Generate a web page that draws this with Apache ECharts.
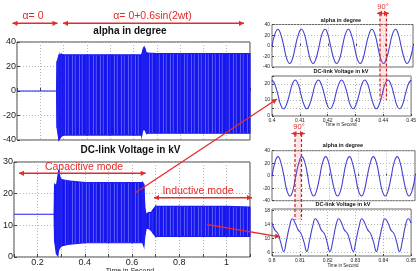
<!DOCTYPE html>
<html>
<head>
<meta charset="utf-8">
<script src="https://cdn.jsdelivr.net/npm/echarts@6/dist/echarts.min.js"></script>
<style>
html, body { margin: 0; padding: 0; background: #fff; }
#chart { width: 419px; height: 271px; }
</style>
</head>
<body>
<div id="chart"></div>
<script>
// main left plots: envelope (upper / lower edge) of the fast oscillation
var tAlpha = [0.1, 0.27, 0.272, 0.28, 0.29, 0.30, 0.40, 0.50, 0.60, 0.635, 0.64, 0.645, 0.65, 0.655, 0.66, 0.70, 0.80, 0.90, 1.00, 1.10];
var alphaUpper = [0, 0, 24, 29, 30, 29.5, 29.5, 29.5, 29.5, 29.5, 33, 35, 34, 31, 31, 30.5, 30.5, 30.5, 30.5, 30.5];
var alphaLower = [0, 0, -30, -40, -37, -36, -36, -36, -36, -36, -32, -31, -32, -34, -34.5, -34.5, -34.5, -34.5, -34.5, -34.5];

var tDc = [0.1, 0.27, 0.272, 0.28, 0.285, 0.29, 0.295, 0.30, 0.33, 0.40, 0.50, 0.60, 0.645, 0.65, 0.655, 0.66, 0.67, 0.68, 0.69, 0.70, 0.80, 0.90, 1.00, 1.10];
var dcUpper = [13.5, 13.5, 23, 22.5, 25, 27.5, 25, 24.5, 24, 23.5, 23.5, 23.5, 23.5, 23, 15, 13.5, 14, 14, 15, 16, 16, 16, 16, 15.8];
var dcLower = [13.5, 13.5, 5, 1, 0.5, 2.5, 3, 3.5, 4, 4.5, 4.5, 4.5, 4.5, 3.5, 7, 9, 9, 8.5, 7.5, 6.5, 6.5, 6.5, 6.5, 6.5];

// zoomed insets (right)
var tIns1 = [0.4000,0.4010,0.4021,0.4031,0.4042,0.4052,0.4063,0.4073,0.4083,0.4094,0.4104,0.4115,0.4125,0.4135,0.4146,0.4156,0.4167,0.4177,0.4188,0.4198,0.4208,0.4219,0.4229,0.4240,0.4250,0.4260,0.4271,0.4281,0.4292,0.4302,0.4313,0.4323,0.4333,0.4344,0.4354,0.4365,0.4375,0.4385,0.4396,0.4406,0.4417,0.4427,0.4438,0.4448,0.4458,0.4469,0.4479,0.4490,0.4500];
var alphaIns1 = [-1,21.5,31,21.5,-1,-24,-33.5,-24, -1,21.5,31,21.5,-1,-24,-33.5,-24, -1,21.5,31,21.5,-1,-24,-33.5,-24, -1,21.5,31,21.5,-1,-24,-33.5,-24, -1,21.5,31,21.5,-1,-24,-33.5,-24, -1,21.5,31,21.5,-1,-24,-33.5,-24, -1];
var dcIns1 = [22.5,19.9,13.5,7.1,4.5,7.1,13.5,19.9, 22.5,19.9,13.5,7.1,4.5,7.1,13.5,19.9, 22.5,19.9,13.5,7.1,4.5,7.1,13.5,19.9, 22.5,19.9,13.5,7.1,4.5,7.1,13.5,19.9, 22.5,19.9,13.5,7.1,4.5,7.1,13.5,19.9, 22.5,19.9,13.5,7.1,4.5,7.1,13.5,19.9, 22.5];

var tIns2 = [0.8000,0.8010,0.8021,0.8031,0.8042,0.8052,0.8063,0.8073,0.8083,0.8094,0.8104,0.8115,0.8125,0.8135,0.8146,0.8156,0.8167,0.8177,0.8188,0.8198,0.8208,0.8219,0.8229,0.8240,0.8250,0.8260,0.8271,0.8281,0.8292,0.8302,0.8313,0.8323,0.8333,0.8344,0.8354,0.8365,0.8375,0.8385,0.8396,0.8406,0.8417,0.8427,0.8438,0.8448,0.8458,0.8469,0.8479,0.8490,0.8500];
var alphaIns2 = [-1,21,30.5,21,-1,-23.5,-32.5,-23.5, -1,21,30.5,21,-1,-23.5,-32.5,-23.5, -1,21,30.5,21,-1,-23.5,-32.5,-23.5, -1,21,30.5,21,-1,-23.5,-32.5,-23.5, -1,21,30.5,21,-1,-23.5,-32.5,-23.5, -1,21,30.5,21,-1,-23.5,-32.5,-23.5, -1];
var dcIns2 = [14.5,12.5,11.5,9,6.3,9.5,13.5,15.7, 14.5,12.5,11.5,9,6.3,9.5,13.5,15.7, 14.5,12.5,11.5,9,6.3,9.5,13.5,15.7, 14.5,12.5,11.5,9,6.3,9.5,13.5,15.7, 14.5,12.5,11.5,9,6.3,9.5,13.5,15.7, 14.5,12.5,11.5,9,6.3,9.5,13.5,15.7, 14.5];

var dcIns2Ticks = [6, 10, 14, 18];

var dom = document.getElementById('chart');
var myChart = echarts.init(dom);

var blue = '#1e1ef0';
var waveBlue = '#4242d2';
var red = '#e32b2b';
var font = 'Liberation Sans, Arial, sans-serif';

// streaky fill for the dense oscillation
var streak = document.createElement('canvas');
streak.width = 7; streak.height = 4;
(function () {
    var c = streak.getContext('2d');
    var cols = ['#1414ee', '#1a1af0', '#5a5af6', '#1414ee', '#2323f0', '#4848f4', '#1616ee'];
    for (var i = 0; i < cols.length; i++) { c.fillStyle = cols[i]; c.fillRect(i, 0, 1, 4); }
})();
var bandFill = { image: streak, repeat: 'repeat' };

function pairs(xs, ys) {
    return xs.map(function (x, i) { return [x, ys[i]]; });
}
function triples(xs, lo, up) {
    return xs.map(function (x, i) { return [x, lo[i], up[i]]; });
}

// fills the strip between lower and upper edge, one segment per data item
function bandItem(params, api) {
    var i = params.dataIndexInside;
    if (i >= params.dataInsideLength - 1) return;
    var pts = [
        api.coord([api.value(0, i), api.value(1, i)]),
        api.coord([api.value(0, i), api.value(2, i)]),
        api.coord([api.value(0, i + 1), api.value(2, i + 1)]),
        api.coord([api.value(0, i + 1), api.value(1, i + 1)])
    ];
    return { type: 'polygon', shape: { points: pts }, style: { fill: bandFill, stroke: blue, lineWidth: 1.2 } };
}

function gridBox(left, top, width, height, bw) {
    return { left: left, top: top, width: width, height: height, show: true, borderColor: '#444', borderWidth: bw, containLabel: false };
}
var dotted = { lineStyle: { color: '#b5b5b5', type: [1, 2], width: 1 } };

function xAx(gi, min, max, step, fs, showLab, fmt) {
    return {
        gridIndex: gi, type: 'value', min: min, max: max, interval: step,
        axisLine: { show: false },
        axisTick: { inside: true, length: fs > 6 ? 3 : 2, lineStyle: { color: '#444' } },
        axisLabel: { show: showLab, fontSize: fs, color: '#222', fontFamily: font, margin: fs > 6 ? 1 : 2, formatter: fmt },
        splitLine: dotted
    };
}
function yAx(gi, min, max, step, fs, fmt) {
    return {
        gridIndex: gi, type: 'value', min: min, max: max, interval: step,
        axisLine: { show: false },
        axisTick: { inside: true, length: fs > 6 ? 3 : 2, lineStyle: { color: '#444' } },
        axisLabel: { fontSize: fs, color: '#222', fontFamily: font, margin: fs > 6 ? 1 : 2, formatter: fmt },
        splitLine: dotted
    };
}

var mainX = function (v) {
    var n = Math.round(v * 10);
    if (n % 2 !== 0) return '';
    return String(n / 10);
};

// ---- annotations
function head(x1, y1, x2, y2) {
    var a = Math.atan2(y2 - y1, x2 - x1), L = 5, W = 2.6;
    var bx = x2 - L * Math.cos(a), by = y2 - L * Math.sin(a);
    return {
        type: 'polygon', z: 100, silent: true,
        shape: { points: [[x2, y2], [bx - W * Math.sin(a), by + W * Math.cos(a)], [bx + W * Math.sin(a), by - W * Math.cos(a)]] },
        style: { fill: red }
    };
}
function arrow(x1, y1, x2, y2, both, w) {
    var els = [{ type: 'line', z: 100, silent: true, shape: { x1: x1, y1: y1, x2: x2, y2: y2 }, style: { stroke: red, lineWidth: w || 1.4 } }];
    els.push(head(x1, y1, x2, y2));
    if (both) els.push(head(x2, y2, x1, y1));
    return els;
}
function txt(x, y, s, size, color, weight) {
    return {
        type: 'text', z: 100, silent: true, x: x, y: y,
        style: { text: s, fill: color, fontSize: size, fontFamily: font, fontWeight: weight || 'normal', align: 'center', verticalAlign: 'middle' }
    };
}
function dashPair(xa, xb, y1, y2) {
    return [
        { type: 'rect', z: 99, silent: true, shape: { x: xa, y: y1, width: xb - xa, height: y2 - y1 }, style: { fill: 'rgba(255,80,80,0.15)' } },
        { type: 'line', z: 100, silent: true, shape: { x1: xa, y1: y1, x2: xa, y2: y2 }, style: { stroke: '#d01f1f', lineWidth: 1.2, lineDash: [3, 2] } },
        { type: 'line', z: 100, silent: true, shape: { x1: xb, y1: y1, x2: xb, y2: y2 }, style: { stroke: '#d01f1f', lineWidth: 1.2, lineDash: [3, 2] } }
    ];
}

var graphics = [].concat(
    [txt(130, 31, 'alpha in degree', 10, '#111', 'bold'),
     txt(130.5, 150, 'DC-link Voltage in kV', 10, '#111', 'bold'),
     txt(130, 271, 'Time in Second', 7, '#222'),
     txt(341, 20, 'alpha in degree', 5.5, '#111', 'bold'),
     txt(341, 71.5, 'DC-link Voltage in kV', 5.5, '#111', 'bold'),
     txt(341, 124.5, 'Time in Second', 4.5, '#222'),
     txt(343, 145.5, 'alpha in degree', 5.5, '#111', 'bold'),
     txt(343, 204.5, 'DC-link Voltage in kV', 5.5, '#111', 'bold'),
     txt(343, 265.5, 'Time in Second', 4.5, '#222'),
     txt(33, 16, 'α= 0', 10.5, red),
     txt(152.5, 16, 'α= 0+0.6sin(2wt)', 10.5, red),
     txt(84, 167, 'Capacitive mode', 10.5, red),
     txt(198, 191.5, 'Inductive mode', 10.5, red),
     txt(383, 7, '90°', 7.5, red),
     txt(299, 127, '90°', 7.5, red)],
    arrow(12.5, 23.3, 57.5, 23.3, true),
    arrow(63, 23.3, 244, 23.3, true),
    arrow(19, 173.3, 145.7, 173.3, true),
    arrow(154, 197.7, 252, 197.7, true),
    arrow(135, 193, 277, 99, false, 1.3),
    arrow(207, 224.5, 280, 236.8, false, 1.3),
    dashPair(380, 386.5, 13.5, 100),
    arrow(377, 13.3, 389, 13.3, true, 1.1),
    dashPair(295, 301.5, 134, 220),
    arrow(291.5, 133.5, 305, 133.5, true, 1.1)
);

var option = {
    animation: false,
    backgroundColor: '#fff',
    grid: [
        gridBox(11, 42, 239, 98, 1),
        gridBox(11, 162, 239, 95, 1),
        gridBox(272, 24.5, 141, 42.5, 0.8),
        gridBox(272, 76, 141, 40, 0.8),
        gridBox(272, 150.7, 143, 50, 0.8),
        gridBox(272, 209, 143, 47, 0.8)
    ],
    xAxis: [
        xAx(0, 0.1, 1.1, 0.1, 9, false),
        xAx(1, 0.1, 1.1, 0.1, 9, true, mainX),
        xAx(2, 0.4, 0.45, 0.01, 5, false),
        xAx(3, 0.4, 0.45, 0.01, 5, true),
        xAx(4, 0.8, 0.85, 0.01, 5, false),
        xAx(5, 0.8, 0.85, 0.01, 5, true)
    ],
    yAxis: [
        yAx(0, -40, 40, 20, 9),
        yAx(1, 0, 30, 10, 9),
        yAx(2, -40, 40, 20, 5),
        yAx(3, 0, 25, 5, 5, function (v) { return v % 10 === 0 ? String(v) : ''; }),
        yAx(4, -40, 40, 20, 5),
        (function () {
            var a = yAx(5, 5, 18.5, null, 5);
            delete a.interval;
            a.axisTick.customValues = dcIns2Ticks;
            a.axisLabel.customValues = dcIns2Ticks;
            return a;
        })()
    ],
    series: [
        { type: 'custom', xAxisIndex: 0, yAxisIndex: 0, renderItem: bandItem, encode: { x: 0, y: [1, 2] }, data: triples(tAlpha, alphaLower, alphaUpper) },
        { type: 'custom', xAxisIndex: 1, yAxisIndex: 1, renderItem: bandItem, encode: { x: 0, y: [1, 2] }, data: triples(tDc, dcLower, dcUpper) },
        { type: 'line', xAxisIndex: 2, yAxisIndex: 2, smooth: 0.5, showSymbol: false, data: pairs(tIns1, alphaIns1), lineStyle: { color: waveBlue, width: 1.1 } },
        { type: 'line', xAxisIndex: 3, yAxisIndex: 3, smooth: 0.5, showSymbol: false, data: pairs(tIns1, dcIns1), lineStyle: { color: waveBlue, width: 1.1 } },
        { type: 'line', xAxisIndex: 4, yAxisIndex: 4, smooth: 0.5, showSymbol: false, data: pairs(tIns2, alphaIns2), lineStyle: { color: waveBlue, width: 1.1 } },
        { type: 'line', xAxisIndex: 5, yAxisIndex: 5, smooth: 0.5, showSymbol: false, data: pairs(tIns2, dcIns2), lineStyle: { color: waveBlue, width: 1.1 } }
    ],
    graphic: graphics
};

if (option && typeof option === 'object') {
    myChart.setOption(option, true);
}
</script>
</body>
</html>
